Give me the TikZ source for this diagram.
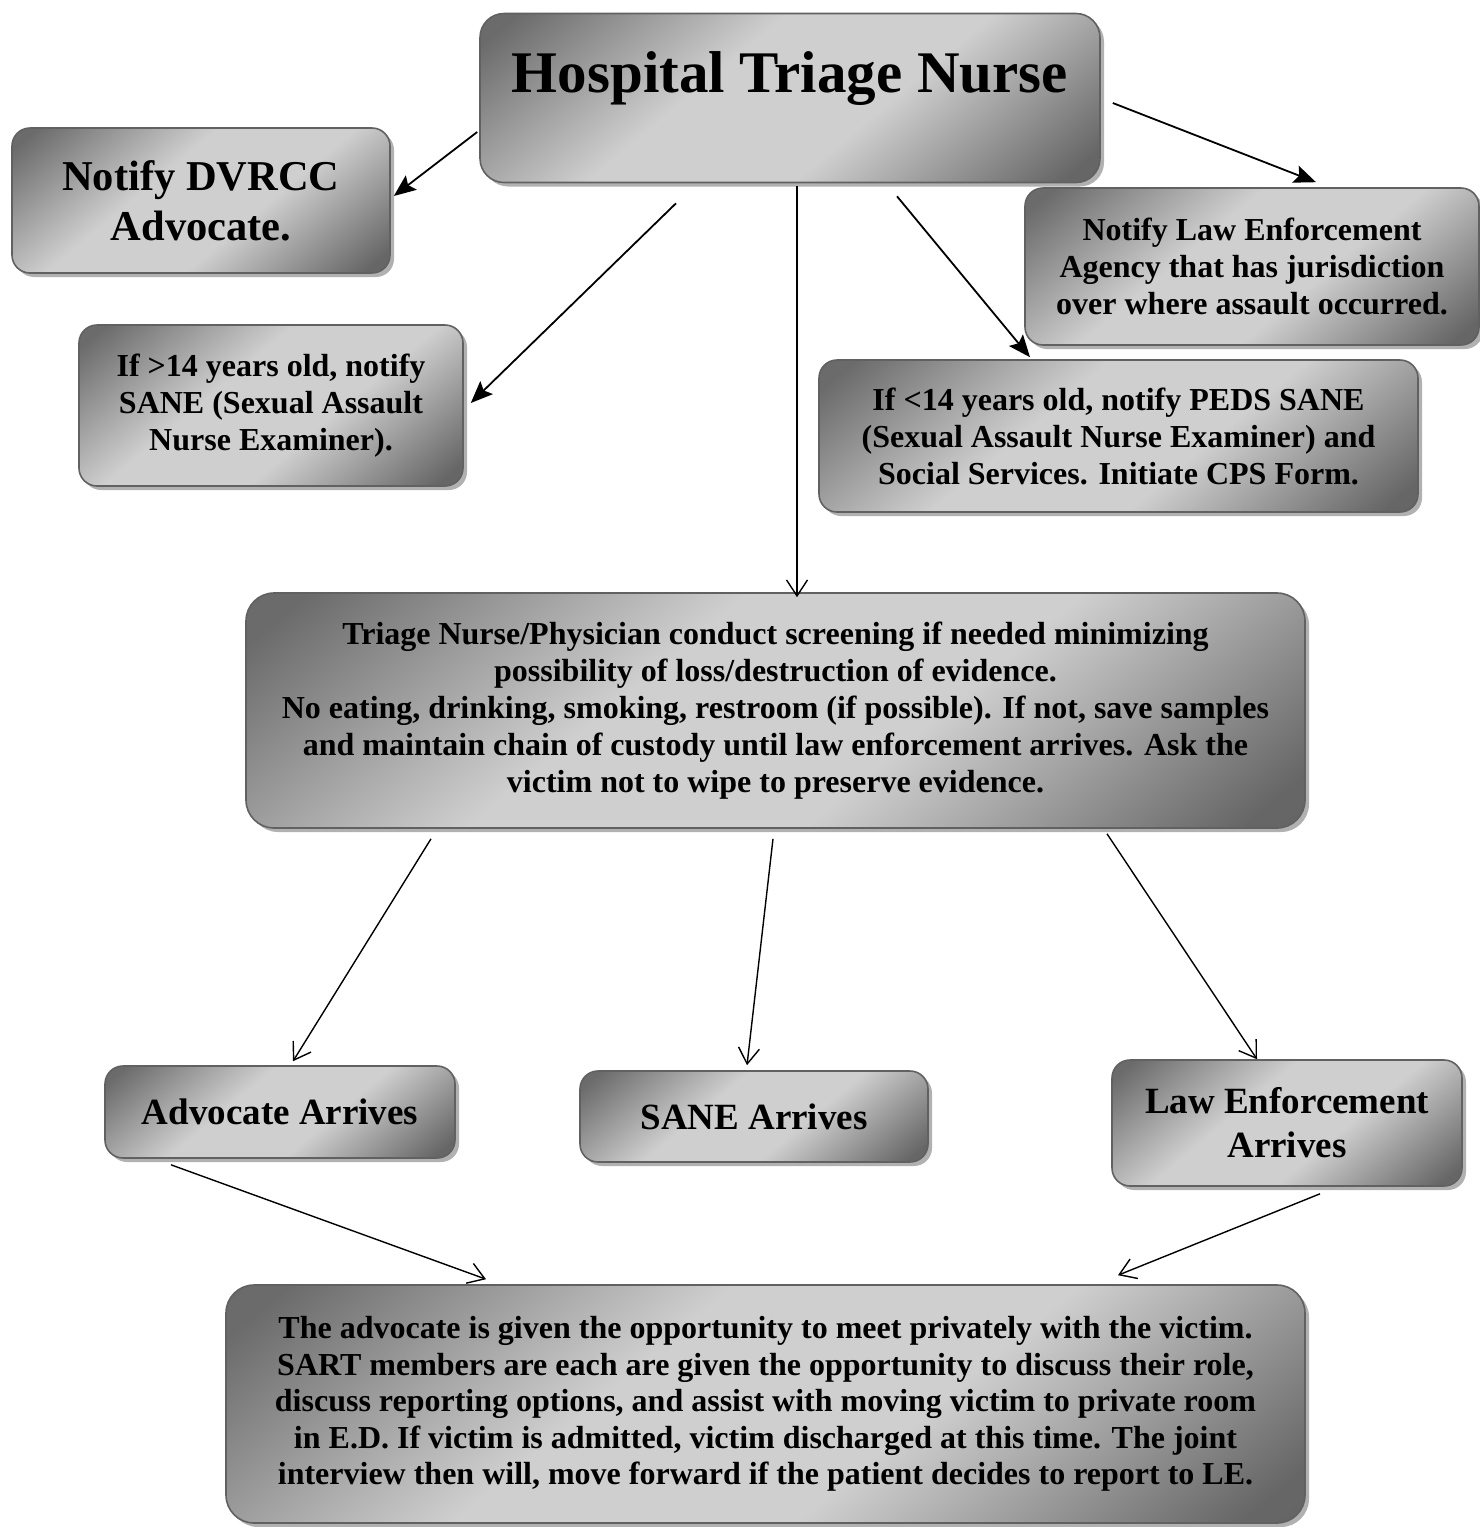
\documentclass[tikz,border=0pt]{standalone}
\usepackage{fontspec}
\setmainfont{Liberation Serif}
\usetikzlibrary{arrows.meta,shadows}

% grey metallic fill: dark at two opposite corners, broad light band between
\pgfdeclareverticalshading{boxshade}{100bp}{%
  color(0bp)=(black!62); color(18bp)=(black!60); color(41bp)=(black!19);
  color(59bp)=(black!19); color(82bp)=(black!58); color(100bp)=(black!60)}

\begin{document}
\begin{tikzpicture}[x=1pt,y=-1pt,
  box/.style={draw=black!62, line width=1.6pt, rounded corners=18pt,
    shade, shading=boxshade, shading angle=40,
    drop shadow={shadow xshift=4pt, shadow yshift=-4pt, fill=black!38, opacity=0.8},
    align=center, inner sep=0pt, font=\bfseries\fontsize{32}{37}\selectfont},
  bigbox/.style={box, rounded corners=28pt},
  arrivebox/.style={box, font=\bfseries\fontsize{37}{44}\selectfont},
  filledarrow/.style={-{Stealth[length=22pt,width=18pt,inset=4pt]}, line width=1.8pt},
  openarrow/.style={-{Straight Barb[length=16pt,width=21pt]}, line width=1.4pt}
]
\useasboundingbox (0,0) rectangle (1480,1527);

% top row
\node[bigbox, rounded corners=24pt, minimum width=620pt, minimum height=169pt,
      text height=40pt, text depth=52pt,
      font=\bfseries\fontsize{59}{68}\selectfont] (nurse) at (790,98) {Hospital Triage Nurse};

\node[box, minimum width=378pt, minimum height=145pt,
      font=\bfseries\fontsize{42.5}{50}\selectfont] (dvrcc) at (201,200.5) {Notify DVRCC\\Advocate.};

\node[box, minimum width=384pt, minimum height=161pt] (saneold) at (271,405.5)
  {If >14 years old, notify\\SANE (Sexual Assault\\Nurse Examiner).};

\node[box, minimum width=454pt, minimum height=157pt] (lawnotify) at (1252,266.5)
  {Notify Law Enforcement\\Agency that has jurisdiction\\over where assault occurred.};

\node[box, minimum width=599pt, minimum height=152pt] (peds) at (1118.5,436)
  {If <14 years old, notify PEDS SANE\\(Sexual Assault Nurse Examiner) and\\Social Services. Initiate CPS Form.};

% screening
\node[bigbox, minimum width=1059pt, minimum height=235pt] (screen) at (775.5,710.5)
  {Triage Nurse/Physician conduct screening if needed minimizing\\
   possibility of loss/destruction of evidence.\\
   No eating, drinking, smoking, restroom (if possible). If not, save samples\\
   and maintain chain of custody until law enforcement arrives. Ask the\\
   victim not to wipe to preserve evidence.};

% arrivals
\node[arrivebox, minimum width=350pt, minimum height=92pt] (advarr) at (280,1112) {Advocate Arrives};
\node[arrivebox, minimum width=348pt, minimum height=91pt] (sanearr) at (754,1116.5) {SANE Arrives};
\node[arrivebox, minimum width=350pt, minimum height=126pt] (learr) at (1287,1123) {Law Enforcement\\Arrives};

% joint meeting
\node[bigbox, minimum width=1079pt, minimum height=238pt, font=\bfseries\fontsize{32}{36.5}\selectfont] (meet) at (765.5,1404)
  {The advocate is given the opportunity to meet privately with the victim.\\
   SART members are each are given the opportunity to discuss their role,\\
   discuss reporting options, and assist with moving victim to private room\\
   in E.D. If victim is admitted, victim discharged at this time. The joint\\
   interview then will, move forward if the patient decides to report to LE.};

% connectors from the triage nurse
\draw[filledarrow] ([shift={(-2,34)}]nurse.west) -- ([shift={(3,-4.5)}]dvrcc.east);
\draw[filledarrow] ([shift={(-114,20)}]nurse.south) -- ([shift={(7,-2.5)}]saneold.east);
\draw[openarrow]   ([shift={(7,3)}]nurse.south) -- ([shift={(21.5,5)}]screen.north);
\draw[filledarrow] ([shift={(107,13)}]nurse.south) -- ([shift={(-88.5,-2)}]peds.north);
\draw[filledarrow] ([shift={(12,5)}]nurse.east) -- ([shift={(64,-5)}]lawnotify.north);

% connectors from screening to arrivals
\draw[openarrow] ([shift={(-344.5,10)}]screen.south) -- ([shift={(13,-4)}]advarr.north);
\draw[openarrow] ([shift={(-2.5,10)}]screen.south) -- ([shift={(-7,-5)}]sanearr.north);
\draw[openarrow] ([shift={(331.5,5)}]screen.south) -- ([shift={(-30,0)}]learr.north);

% connectors to the joint meeting
\draw[openarrow] ([shift={(-109,6)}]advarr.south) -- ([shift={(-279.5,-5)}]meet.north);
\draw[openarrow] ([shift={(33,7)}]learr.south) -- ([shift={(352.5,-9)}]meet.north);
\end{tikzpicture}
\end{document}
